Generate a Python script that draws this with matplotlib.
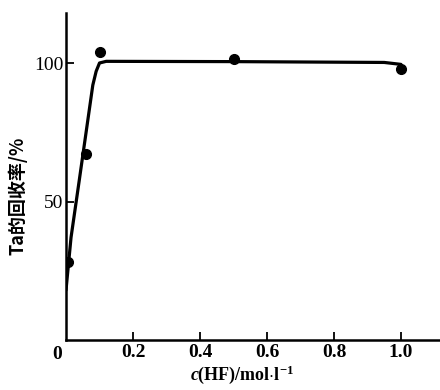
import matplotlib
matplotlib.use("Agg")
import matplotlib.pyplot as plt

plt.rcParams["mathtext.fontset"] = "custom"
plt.rcParams["mathtext.rm"] = "Liberation Serif:bold"
plt.rcParams["mathtext.bf"] = "Liberation Serif:bold"
plt.rcParams["mathtext.it"] = "Liberation Serif:italic:bold"
plt.rcParams["mathtext.default"] = "bf"

# data
conc_points = [0.005, 0.06, 0.10, 0.50, 1.00]
recovery_points = [28, 67, 104, 101.5, 98]

curve_x = [0.0, 0.015, 0.04, 0.08, 0.09, 0.10, 0.12, 0.50, 0.95, 1.00]
curve_y = [18, 37, 58, 92, 97, 100, 100.6, 100.5, 100.2, 99.5]

xticks = [0.2, 0.4, 0.6, 0.8, 1.0]
xtick_labels = ["0.2", "0.4", "0.6", "0.8", "1.0"]
yticks = [50, 100]
ytick_labels = ["50", "100"]

W, H = 440, 390
fig = plt.figure(figsize=(W / 100, H / 100), dpi=100)
ax = fig.add_axes([66 / W, 50 / H, 374 / W, 327 / H])
ax.set_xlim(0, 374 / 335)
ax.set_ylim(0, 327 / 2.77)

ax.plot(curve_x, curve_y, color="black", lw=2.3, solid_capstyle="round")
ax.plot(conc_points, recovery_points, "o", color="black", ms=7)

for s in ["top", "right"]:
    ax.spines[s].set_visible(False)
for s in ["left", "bottom"]:
    ax.spines[s].set_linewidth(1.8)

serif = ["Liberation Serif", "DejaVu Serif"]
ax.set_xticks(xticks)
ax.set_xticklabels(xtick_labels, fontfamily=serif, fontweight="bold", fontsize=14)
ax.set_yticks(yticks)
ax.set_yticklabels(ytick_labels, fontfamily=serif, fontsize=14)
ax.tick_params(direction="in", length=6, width=1.3, pad=3)
ax.tick_params(axis="y", pad=2)

ax.text(-0.012, -2, "0", ha="right", va="top", fontfamily=serif, fontsize=14,
        fontweight="bold", transform=ax.transData, clip_on=False)

ax.set_ylabel("Ta的回收率/%", fontfamily=["Noto Sans CJK SC"],
              fontsize=13, fontweight="bold")
ax.yaxis.set_label_coords(-0.104, 0.44)
ax.set_xlabel(r"$\mathit{c}$(HF)/mol$\cdot$l$^{-1}$", fontfamily=serif, fontsize=13,
              fontweight="bold")
ax.xaxis.set_label_coords(0.47, -0.072)

fig.savefig("out.png", dpi=100)
